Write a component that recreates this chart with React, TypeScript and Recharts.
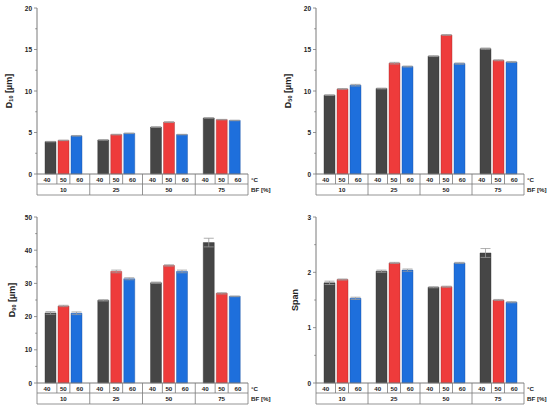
import React from "react";
import { BarChart, Bar, XAxis, YAxis, ErrorBar, Label } from "recharts";

// BF content groups and spray temperatures
const bfGroups = ["10", "25", "50", "75"];
const temps = ["40", "50", "60"];

// D10 [µm]
const d10T40 = [3.9, 4.1, 5.65, 6.75];
const d10T50 = [4.05, 4.75, 6.25, 6.55];
const d10T60 = [4.6, 4.9, 4.75, 6.45];
const d10Err40 = [0.03, 0.03, 0.04, 0.03];
const d10Err50 = [0.03, 0.04, 0.05, 0.03];
const d10Err60 = [0.04, 0.03, 0.03, 0.03];

// D50 [µm]
const d50T40 = [9.5, 10.3, 14.2, 15.1];
const d50T50 = [10.25, 13.35, 16.75, 13.7];
const d50T60 = [10.7, 12.95, 13.3, 13.5];
const d50Err40 = [0.04, 0.05, 0.05, 0.08];
const d50Err50 = [0.05, 0.1, 0.05, 0.06];
const d50Err60 = [0.1, 0.06, 0.08, 0.06];

// D90 [µm]
const d90T40 = [21.1, 24.9, 30.2, 42.3];
const d90T50 = [23.2, 33.6, 35.4, 27.0];
const d90T60 = [21.0, 31.4, 33.6, 26.1];
const d90Err40 = [0.4, 0.2, 0.2, 1.3];
const d90Err50 = [0.2, 0.4, 0.2, 0.2];
const d90Err60 = [0.4, 0.3, 0.4, 0.1];

// Span
const spanT40 = [1.81, 2.02, 1.73, 2.35];
const spanT50 = [1.87, 2.17, 1.74, 1.5];
const spanT60 = [1.53, 2.04, 2.17, 1.46];
const spanErr40 = [0.03, 0.02, 0.01, 0.08];
const spanErr50 = [0.01, 0.01, 0.01, 0.01];
const spanErr60 = [0.02, 0.02, 0.01, 0.01];

const C_GRAY = "#464646";
const C_RED = "#ee3b3b";
const C_BLUE = "#1e6fdc";
const AXIS = "#7a7a7a";
const TXT = "#222";
const FONT = "'Liberation Sans', Arial, sans-serif";

const BAR = 11;
const GAP = 2;

const build = (a: number[], b: number[], c: number[], ea: number[], eb: number[], ec: number[]) =>
  bfGroups.map((bf, i) => ({ bf, t40: a[i], t50: b[i], t60: c[i], e40: ea[i], e50: eb[i], e60: ec[i] }));

const panels = [
  {
    key: "d10", left: 0, top: 0, h: 205, yw: 37, mt: 8, mr: 27, labelX: 9,
    sym: "D", sub: "10", unit: " [µm]", max: 20, step: 5,
    data: build(d10T40, d10T50, d10T60, d10Err40, d10Err50, d10Err60),
  },
  {
    key: "d50", left: 275, top: 0, h: 205, yw: 41, mt: 8, mr: 26, labelX: 13,
    sym: "D", sub: "50", unit: " [µm]", max: 20, step: 5,
    data: build(d50T40, d50T50, d50T60, d50Err40, d50Err50, d50Err60),
  },
  {
    key: "d90", left: 0, top: 205, h: 204, yw: 37, mt: 12, mr: 27, labelX: 12,
    sym: "D", sub: "90", unit: " [µm]", max: 50, step: 10,
    data: build(d90T40, d90T50, d90T60, d90Err40, d90Err50, d90Err60),
  },
  {
    key: "span", left: 275, top: 205, h: 204, yw: 41, mt: 12, mr: 26, labelX: 20,
    sym: "Span", sub: "", unit: "", max: 3, step: 1,
    data: build(spanT40, spanT50, spanT60, spanErr40, spanErr50, spanErr60),
  },
];

const YTick = ({ x, y, payload, step }: any) => {
  const v = payload.value;
  const major = Math.abs(v / step - Math.round(v / step)) < 1e-6;
  return (
    <g>
      <line x1={x - (major ? 3 : 1.8)} x2={x} y1={y} y2={y} stroke={AXIS} strokeWidth={0.8} />
      {major && (
        <text x={x - 5} y={y} textAnchor="end" dominantBaseline="central" fontSize={6.5} fontWeight="bold" fill={TXT} fontFamily={FONT}>
          {v}
        </text>
      )}
    </g>
  );
};

const TableTick = ({ x, y, payload, index, bw }: any) => {
  const left = x - bw / 2;
  const right = x + bw / 2;
  const half = (BAR + GAP) / 2;
  const edges = [left, x - half, x + half, right];
  const r1 = y + 10;
  const r2 = y + 21;
  const ts = { fontSize: 6.2, fontWeight: "bold" as const, fill: TXT, fontFamily: FONT };
  return (
    <g>
      {edges.slice(0, 3).map((e, k) => (
        <line key={k} x1={e} x2={e} y1={y} y2={k === 0 ? r2 : r1} stroke={AXIS} strokeWidth={0.8} />
      ))}
      {index === bfGroups.length - 1 && (
        <line x1={right} x2={right} y1={y} y2={r2} stroke={AXIS} strokeWidth={0.8} />
      )}
      <line x1={left} x2={right} y1={r1} y2={r1} stroke={AXIS} strokeWidth={0.8} />
      <line x1={left} x2={right} y1={r2} y2={r2} stroke={AXIS} strokeWidth={0.8} />
      {temps.map((t, k) => (
        <text key={t} x={(edges[k] + edges[k + 1]) / 2} y={y + 5.2} textAnchor="middle" dominantBaseline="central" {...ts}>
          {t}
        </text>
      ))}
      <text x={x} y={y + 15.7} textAnchor="middle" dominantBaseline="central" {...ts}>
        {payload.value}
      </text>
      {index === bfGroups.length - 1 && (
        <>
          <text x={right + 3} y={y + 5.2} dominantBaseline="central" {...ts}>°C</text>
          <text x={right + 3} y={y + 15.7} dominantBaseline="central" {...ts}>BF [%]</text>
        </>
      )}
    </g>
  );
};

const YLabel = ({ viewBox, p }: any) => {
  const cx = viewBox.x + p.labelX;
  const cy = viewBox.y + viewBox.height / 2;
  return (
    <text
      x={cx}
      y={cy}
      transform={`rotate(-90, ${cx}, ${cy})`}
      textAnchor="middle"
      dominantBaseline="central"
      fontSize={9}
      fontWeight="bold"
      fill={TXT}
      fontFamily={FONT}
    >
      {p.sym}
      {p.sub && (
        <tspan fontSize={5.5} dy={2}>
          {p.sub}
        </tspan>
      )}
      {p.sub && <tspan dy={-2}>{p.unit}</tspan>}
    </text>
  );
};

function Panel({ p }: { p: (typeof panels)[number] }) {
  const W = 275;
  const xh = p.h - (p.h === 205 ? 174 : 178) - 0;
  const plotW = W - p.yw - p.mr;
  const bw = plotW / bfGroups.length;
  const ticks: number[] = [];
  for (let v = 0; v <= p.max + 1e-9; v += p.step / 2) ticks.push(Math.round(v * 100) / 100);
  return (
    <div style={{ position: "absolute", left: p.left, top: p.top }}>
      <BarChart
        width={W}
        height={p.h}
        data={p.data}
        margin={{ top: p.mt, right: p.mr, left: 0, bottom: 0 }}
        barSize={BAR}
        barGap={GAP}
      >
        <XAxis
          dataKey="bf"
          height={xh}
          interval={0}
          tickLine={false}
          tickSize={0}
          tickMargin={0}
          axisLine={{ stroke: AXIS, strokeWidth: 1 }}
          tick={<TableTick bw={bw} />}
        />
        <XAxis xAxisId="top" orientation="top" height={0} tick={false} tickLine={false} axisLine={{ stroke: AXIS, strokeWidth: 1 }} />
        <YAxis
          width={p.yw}
          domain={[0, p.max]}
          ticks={ticks}
          interval={0}
          tickLine={false}
          tickSize={0}
          tickMargin={0}
          axisLine={{ stroke: AXIS, strokeWidth: 1 }}
          tick={<YTick step={p.step} />}
        >
          <Label content={(props: any) => <YLabel viewBox={props.viewBox} p={p} />} />
        </YAxis>
        <YAxis yAxisId="right" orientation="right" width={0} tick={false} tickLine={false} axisLine={{ stroke: AXIS, strokeWidth: 1 }} />
        <Bar dataKey="t40" fill={C_GRAY} stroke="#2e2e2e" strokeWidth={0.4} isAnimationActive={false}>
          <ErrorBar dataKey="e40" width={5} stroke="#9a9a9a" strokeWidth={0.8} direction="y" />
        </Bar>
        <Bar dataKey="t50" fill={C_RED} stroke="#a02828" strokeWidth={0.4} isAnimationActive={false}>
          <ErrorBar dataKey="e50" width={5} stroke="#9a9a9a" strokeWidth={0.8} direction="y" />
        </Bar>
        <Bar dataKey="t60" fill={C_BLUE} stroke="#174f9e" strokeWidth={0.4} isAnimationActive={false}>
          <ErrorBar dataKey="e60" width={5} stroke="#9a9a9a" strokeWidth={0.8} direction="y" />
        </Bar>
      </BarChart>
    </div>
  );
}

export default function App() {
  return (
    <div style={{ position: "absolute", left: 0, top: 0, width: 550, height: 409, background: "#fff" }}>
      {panels.map((p) => (
        <Panel key={p.key} p={p} />
      ))}
    </div>
  );
}
